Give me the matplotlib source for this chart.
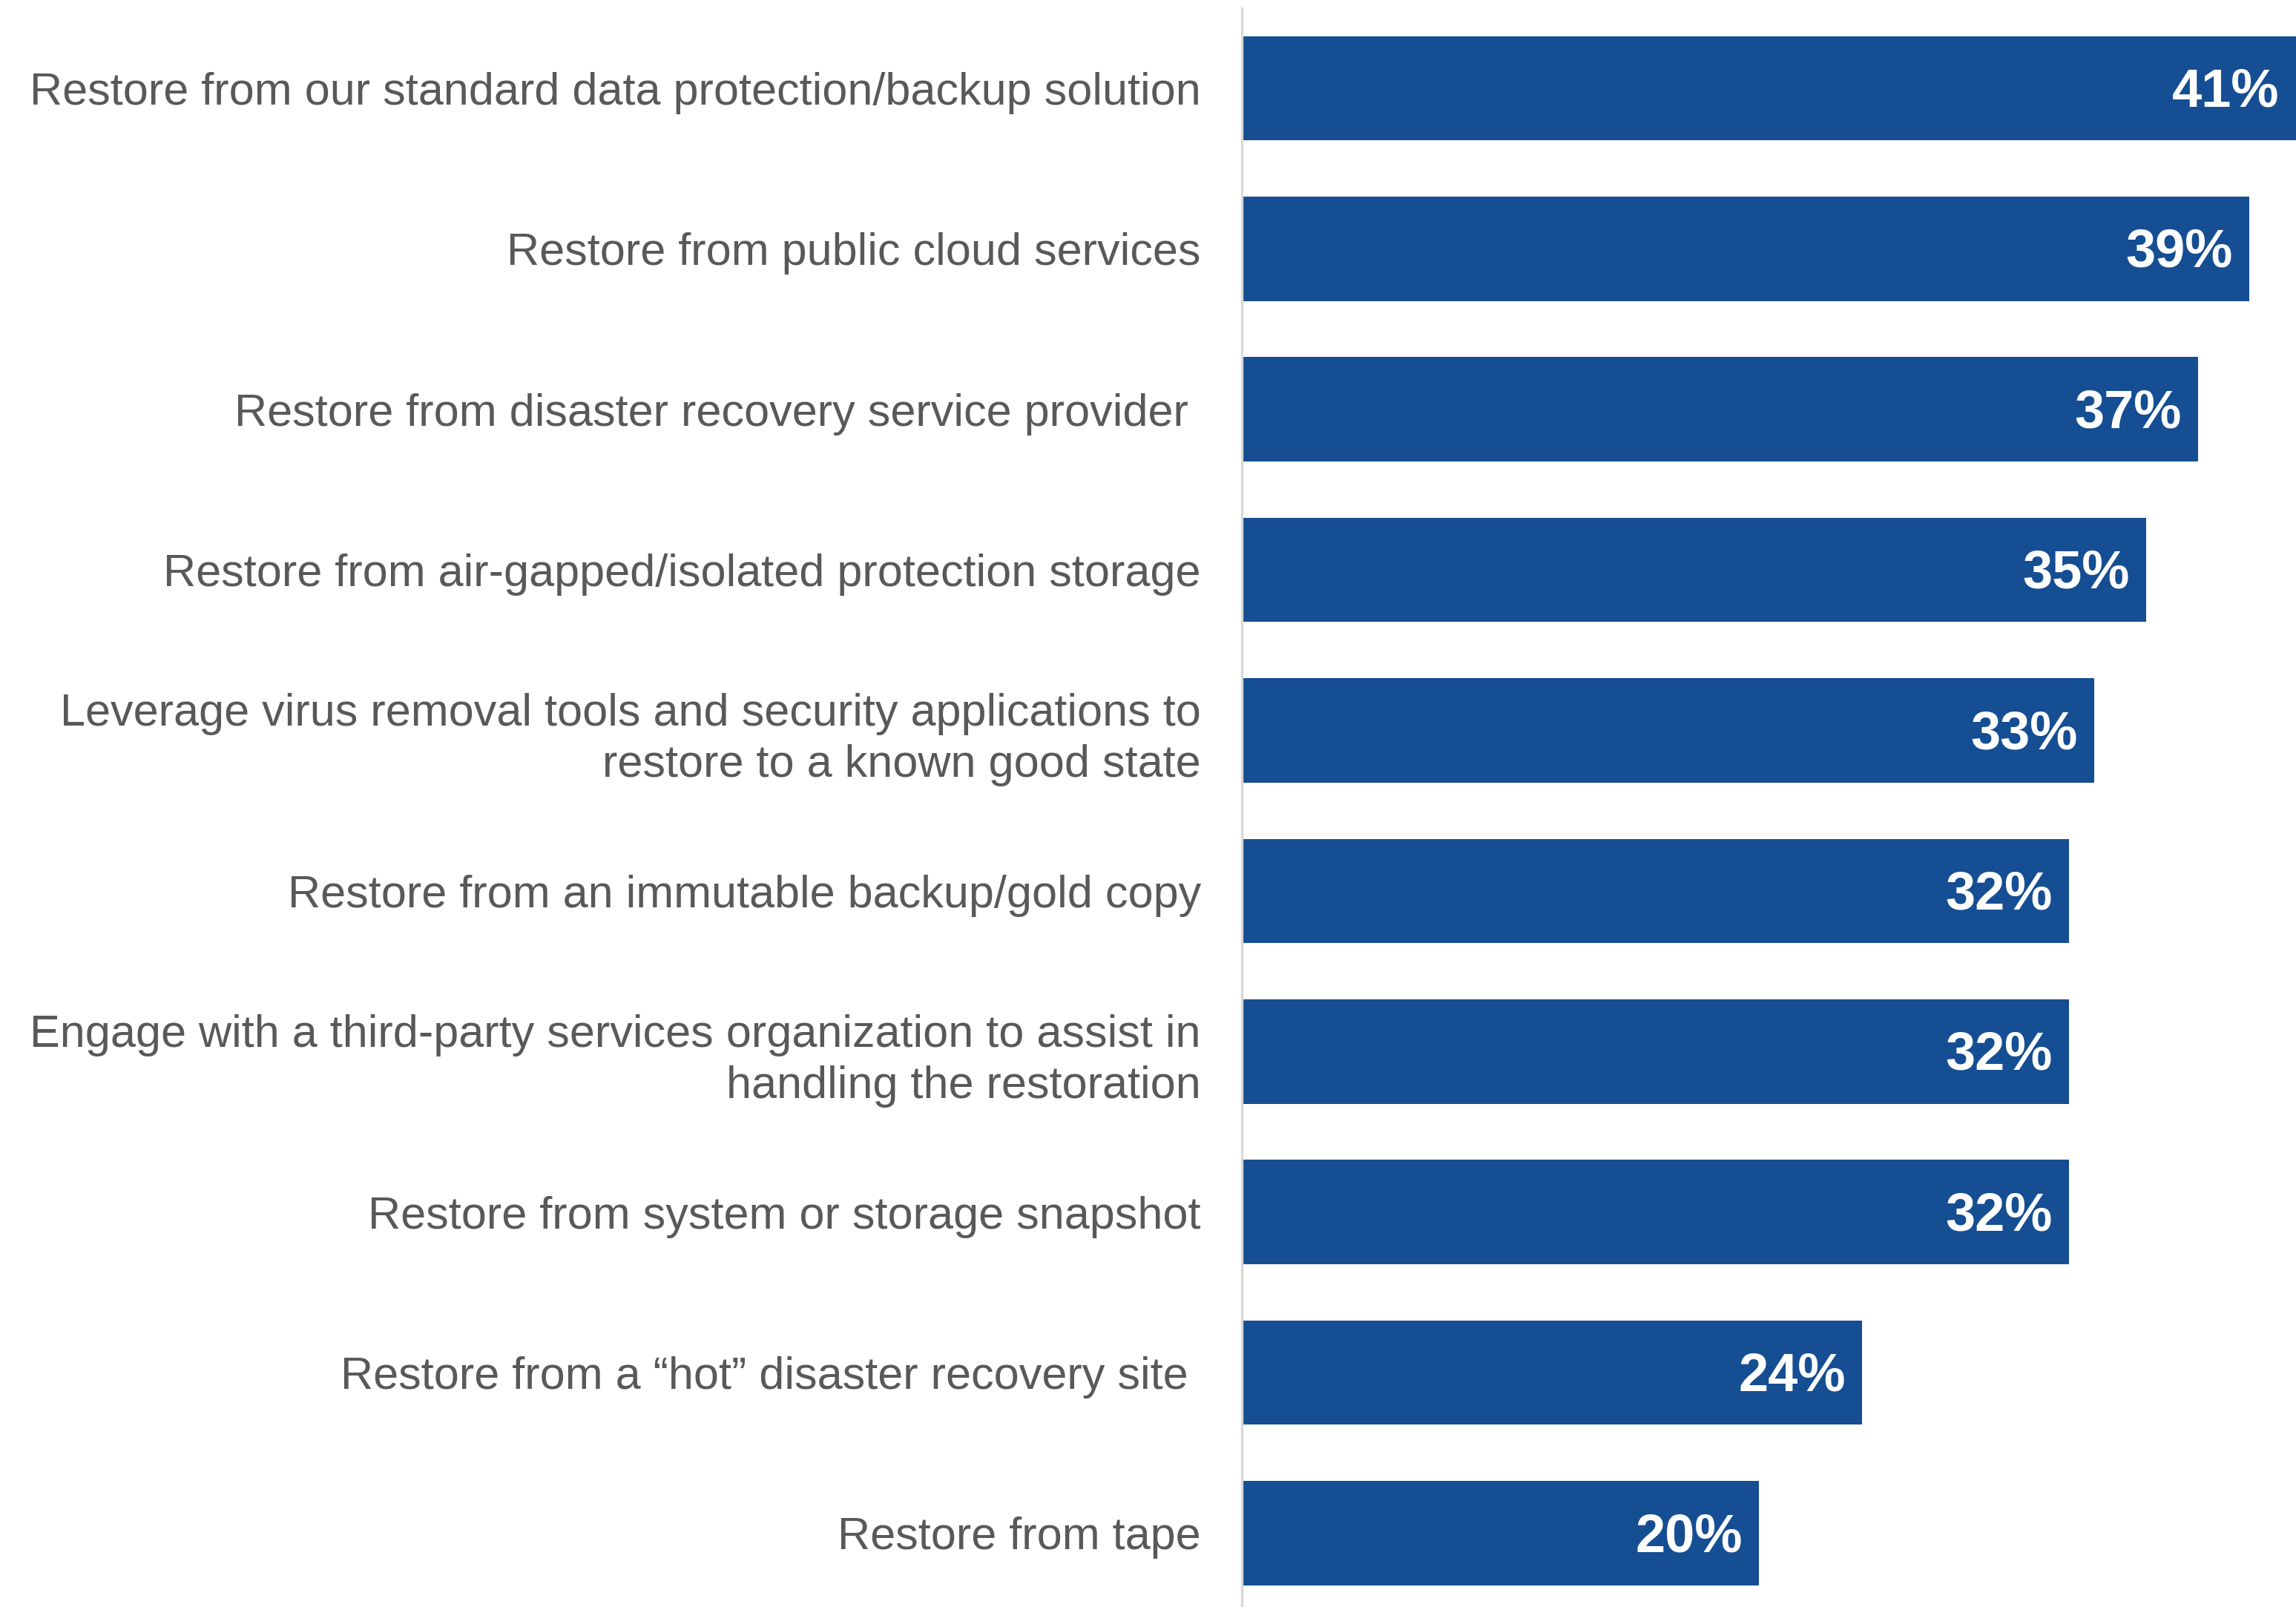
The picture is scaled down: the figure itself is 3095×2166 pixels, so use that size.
import matplotlib.pyplot as plt

plt.rcParams['font.family'] = ['Liberation Sans', 'DejaVu Sans']

categories = [
    "Restore from our standard data protection/backup solution",
    "Restore from public cloud services",
    "Restore from disaster recovery service provider ",
    "Restore from air-gapped/isolated protection storage",
    "Leverage virus removal tools and security applications to\nrestore to a known good state",
    "Restore from an immutable backup/gold copy",
    "Engage with a third-party services organization to assist in\nhandling the restoration",
    "Restore from system or storage snapshot",
    "Restore from a \u201chot\u201d disaster recovery site ",
    "Restore from tape",
]
values = [41, 39, 37, 35, 33, 32, 32, 32, 24, 20]

fig = plt.figure(figsize=(15.475, 10.83), dpi=200)
ax = fig.add_axes([0.541, -0.004, 0.459, 0.999])

pos = list(range(len(values)))
bars = ax.barh(pos, values, height=0.65, color='#154E93', clip_on=True)

# value labels inside the bar ends
for b, v in zip(bars, values):
    ax.annotate(f"{v}%", xy=(min(b.get_width(), 40.8), b.get_y() + b.get_height() / 2),
                xytext=(-8, -2), textcoords='offset points',
                ha='right', va='center', color='white',
                fontsize=26, fontweight='bold')

ax.set_xlim(0, 40.8)
ax.set_ylim(9.5, -0.5)
ax.set_yticks(pos)
ax.set_yticklabels(categories, fontsize=22, color='#595959', ha='right',
                   linespacing=1.27)
ax.tick_params(axis='y', length=0, pad=20)
ax.set_xticks([])

for s in ['top', 'right', 'bottom']:
    ax.spines[s].set_visible(False)
ax.spines['left'].set_color('#D9D9D9')
ax.spines['left'].set_linewidth(1.2)

fig.savefig('out.png', dpi=200)
